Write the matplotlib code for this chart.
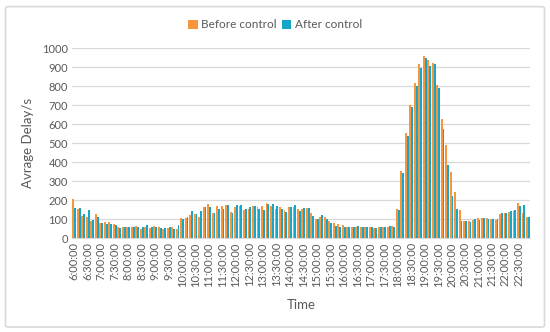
import matplotlib
matplotlib.use("Agg")
import matplotlib.pyplot as plt
import numpy as np
from matplotlib.patches import FancyBboxPatch

# time slots every 10 minutes, 6:00 to 22:50
times = []
for h in range(6, 23):
    for m in range(0, 60, 10):
        times.append("%d:%02d:00" % (h, m))

before = [205, 153, 116, 112, 91, 124, 81, 84, 86, 76,
          60, 58, 60, 60, 62, 45, 56, 52, 64, 60,
          50, 55, 58, 48, 108, 105, 120, 128, 110, 165,
          180, 130, 170, 168, 172, 135, 165, 168, 147, 154,
          168, 161, 168, 187, 168, 151, 165, 147, 161, 165,
          151, 154, 156, 133, 98, 112, 109, 91, 81, 72,
          68, 56, 60, 56, 60, 56, 60, 51, 56, 56,
          60, 63, 155, 353, 551, 703, 814, 916, 958, 940,
          923, 804, 625, 489, 347, 244, 147, 88, 90, 95,
          108, 105, 105, 100, 95, 125, 130, 135, 140, 182,
          133, 112]
after = [158, 160, 126, 150, 95, 109, 77, 74, 72, 70,
         52, 60, 60, 60, 58, 58, 70, 58, 58, 52,
         55, 58, 50, 68, 98, 110, 145, 128, 145, 165,
         165, 130, 155, 151, 172, 130, 172, 172, 151, 165,
         168, 154, 147, 179, 179, 168, 154, 138, 161, 172,
         144, 158, 156, 116, 102, 123, 98, 81, 63, 60,
         60, 60, 60, 63, 56, 56, 60, 51, 56, 60,
         63, 58, 150, 340, 537, 688, 802, 898, 946, 905,
         914, 788, 572, 384, 221, 152, 90, 88, 85, 100,
         95, 108, 100, 98, 100, 130, 132, 145, 147, 168,
         172, 109]

orange = '#F7963C'
cyan = '#17A6C8'
grey = '#595959'

plt.rcParams['font.family'] = ['Lato', 'DejaVu Sans']

fig = plt.figure(figsize=(5.5, 3.32), dpi=100)
fig.patches.append(FancyBboxPatch((0.01, 0.015), 0.98, 0.965, boxstyle="round,pad=0,rounding_size=0.005",
                                  transform=fig.transFigure, facecolor='white',
                                  edgecolor='#D9D9D9', linewidth=1.2, zorder=-1))
ax = fig.add_axes([0.131, 0.283, 0.833, 0.572])
ax.set_facecolor('none')

x = np.arange(len(times))
w = 0.42
ax.bar(x - w / 2, before, w, color=orange, label='Before control', zorder=3)
ax.bar(x + w / 2, after, w, color=cyan, label='After control', zorder=3)

ax.set_xlim(-0.5, len(times) - 0.5)
ax.set_ylim(0, 1000)
ax.set_yticks(np.arange(0, 1001, 100))
ax.set_xticks(x[::3])
ax.set_xticklabels(times[::3], rotation=90)
ax.tick_params(axis='both', length=0, labelsize=8, colors=grey, pad=3)
ax.grid(axis='y', color='#D9D9D9', linewidth=0.9, zorder=0)
for s in ['top', 'right', 'left']:
    ax.spines[s].set_visible(False)
ax.spines['bottom'].set_color('#D9D9D9')

ax.set_xlabel('Time', fontsize=9.5, color=grey, labelpad=9)
ax.set_ylabel('Avrage Delay/s', fontsize=9.5, color=grey, labelpad=6)

fig.legend(loc='center', bbox_to_anchor=(0.5, 0.925), ncol=2, frameon=False,
           fontsize=8.5, handlelength=0.8, handleheight=0.8, handletextpad=0.3,
           columnspacing=0.4, labelcolor=grey)

fig.savefig('out.png', dpi=100)
